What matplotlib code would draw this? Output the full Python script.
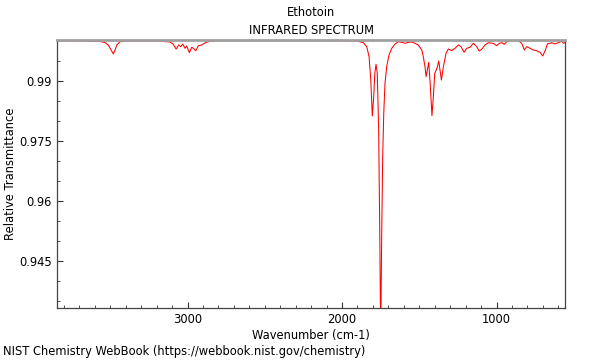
import matplotlib
matplotlib.use("Agg")
import matplotlib.pyplot as plt
from matplotlib.ticker import MultipleLocator, FixedLocator

title = "Ethotoin"
subtitle = "INFRARED SPECTRUM"
xlabel = "Wavenumber (cm-1)"
ylabel = "Relative Transmittance"
credit = "NIST Chemistry WebBook (https://webbook.nist.gov/chemistry)"

wavenumber = [3843, 3696, 3566, 3534, 3513, 3495, 3480, 3469, 3458, 3437,
              3372, 3243, 3146, 3113, 3094, 3074, 3057, 3044, 3031, 3016,
              3005, 2988, 2973, 2961, 2947, 2930, 2908, 2893, 2865, 2822,
              2400, 2013, 1905, 1862, 1840, 1825, 1814, 1804, 1795, 1788,
              1780, 1772, 1763, 1756, 1750, 1743, 1737, 1730, 1722, 1711,
              1696, 1678, 1657, 1636, 1614, 1592, 1571, 1549, 1528, 1506,
              1484, 1474, 1463, 1456, 1448, 1439, 1431, 1418, 1409, 1400,
              1392, 1383, 1374, 1366, 1357, 1344, 1327, 1312, 1290, 1269,
              1247, 1230, 1210, 1193, 1172, 1150, 1128, 1113, 1096, 1075,
              1053, 1021, 999, 982, 965, 950, 934, 913, 859, 837,
              820, 805, 783, 762, 740, 719, 701, 684, 671, 643,
              622, 600, 578, 568, 557]
transmittance = [0.99998, 0.99991, 0.99978, 0.99953, 0.99891, 0.99766, 0.99667, 0.99766, 0.99891, 0.99973,
                 0.99991, 0.99991, 0.99978, 0.99966, 0.99916, 0.99791, 0.99891, 0.99849, 0.99916, 0.99809,
                 0.99866, 0.99699, 0.99834, 0.99804, 0.99749, 0.99874, 0.99891, 0.99933, 0.99973, 0.99998,
                 1.00000, 0.99998, 0.99991, 0.99948, 0.99849, 0.99599, 0.99017, 0.98119, 0.98601, 0.99185,
                 0.99409, 0.99185, 0.97769, 0.95274, 0.92600, 0.95274, 0.97103, 0.98194, 0.98935, 0.99349,
                 0.99641, 0.99809, 0.99916, 0.99973, 0.99958, 0.99933, 0.99958, 0.99966, 0.99933, 0.99891,
                 0.99766, 0.99599, 0.99349, 0.99100, 0.99267, 0.99459, 0.99017, 0.98126, 0.98601, 0.99185,
                 0.99250, 0.99349, 0.99492, 0.99267, 0.99017, 0.99349, 0.99684, 0.99791, 0.99749, 0.99809,
                 0.99891, 0.99849, 0.99709, 0.99809, 0.99834, 0.99933, 0.99849, 0.99741, 0.99784, 0.99891,
                 0.99948, 0.99933, 0.99874, 0.99933, 0.99948, 0.99909, 0.99973, 0.99998, 0.99998, 0.99933,
                 0.99766, 0.99849, 0.99809, 0.99766, 0.99749, 0.99709, 0.99617, 0.99766, 0.99916, 0.99948,
                 0.99916, 0.99948, 0.99991, 0.99933, 0.99948]

xticks = [3000, 2000, 1000]
yticks = [0.945, 0.96, 0.975, 0.99]
ytick_labels = ["0.945", "0.96", "0.975", "0.99"]

fs = 8.3
fig = plt.figure(figsize=(6, 3.6), dpi=100)
ax = fig.add_axes([57.3/600, 1-307.7/360, (565.3-57.3)/600, (307.7-40)/360])
ax.plot(wavenumber, transmittance, color="#ff0000", lw=0.75, clip_on=True)
ax.set_xlim(3843, 555)
ax.set_ylim(0.93334, 1.00016)

ax.xaxis.set_major_locator(FixedLocator(xticks))
ax.xaxis.set_minor_locator(MultipleLocator(100))
ax.yaxis.set_major_locator(FixedLocator(yticks))
ax.set_yticklabels(ytick_labels)
ax.yaxis.set_minor_locator(MultipleLocator(0.005))
ax.tick_params(which="both", direction="in", top=False, right=False,
               labelsize=fs, colors="#333333", labelcolor="black")
ax.tick_params(which="major", length=4, width=0.8, pad=4)
ax.tick_params(which="minor", length=2.5, width=0.6)

for side in ["left", "bottom", "right"]:
    ax.spines[side].set_color("#444444")
    ax.spines[side].set_linewidth(0.9)
ax.spines["top"].set_color("#a0a0a0")
ax.spines["top"].set_linewidth(2)

ax.set_xlabel(xlabel, fontsize=fs, labelpad=2)
ax.set_ylabel(ylabel, fontsize=fs)
ax.yaxis.set_label_coords((17 - 57.3) / 508, 0.5)

cx = (57.3 + 565.3) / 2 / 600
fig.text(cx, 1-13/360, title, ha="center", va="center", fontsize=fs)
fig.text(cx, 1-30/360, subtitle, ha="center", va="center", fontsize=fs)
fig.text(3/600, 1-352/360, credit, ha="left", va="center", fontsize=fs)

fig.savefig("out.png", dpi=100)
